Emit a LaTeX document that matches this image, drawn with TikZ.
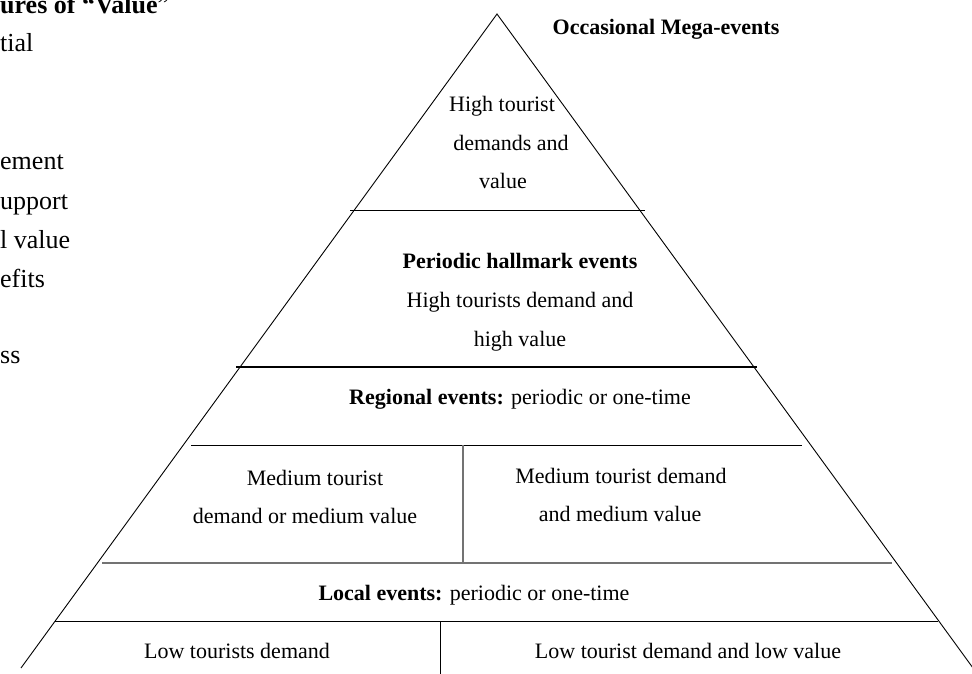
\documentclass[tikz,border=0pt]{standalone}
\usepackage{fontspec}
\setmainfont{Liberation Serif}
\begin{document}
\begin{tikzpicture}[x=1pt,y=-1pt,
  lbl/.style={anchor=base, inner sep=0pt, font=\fontsize{22}{26}\selectfont},
  side/.style={line width=0.9pt, draw=black},
  tier/.style={line width=1pt, draw=black},
  boldtier/.style={line width=1.6pt, draw=black},
  softtier/.style={line width=1.2pt, draw=black!55},
  margintext/.style={anchor=base west, inner sep=0pt, font=\fontsize{26}{30}\selectfont}]
\useasboundingbox (0,0) rectangle (972,674);

% pyramid outline
\coordinate (apex) at (497,14);
\coordinate (baseL) at (21,668);
\coordinate (baseR) at (973,668);
\draw[side] (baseL) -- (apex) -- (baseR);

% tier separators
\coordinate (t1L) at (350,210);  \coordinate (t1R) at (645,210);
\coordinate (t2L) at (236,367);  \coordinate (t2R) at (757,367);
\coordinate (t3L) at (191,445);  \coordinate (t3R) at (802,445);
\coordinate (t4L) at (102,563);  \coordinate (t4R) at (892,563);
\coordinate (t5L) at (55,621);   \coordinate (t5R) at (938,621);
\draw[tier] (t1L) -- (t1R);
\draw[boldtier] (t2L) -- (t2R);
\draw[tier] (t3L) -- (t3R);
\draw[softtier] (t4L) -- (t4R);
\draw[tier] (t5L) -- (t5R);

% column splits
\coordinate (v1T) at (463,445); \coordinate (v1B) at (463,563);
\coordinate (v2T) at (440,621); \coordinate (v2B) at (440,674);
\draw[softtier] (v1T) -- (v1B);
\draw[tier] (v2T) -- (v2B);

% labels
\node[lbl, font=\fontsize{22}{26}\selectfont\bfseries] (mega) at (666,35) {Occasional Mega-events};

\node[lbl] (top1) at (502,112) {High tourist};
\node[lbl] (top2) at (511,150) {demands and};
\node[lbl] (top3) at (503,188) {value};

\node[lbl, font=\fontsize{22}{26}\selectfont\bfseries] (hall0) at (520,268) {Periodic hallmark events};
\node[lbl] (hall1) at (520,307) {High tourists demand and};
\node[lbl] (hall2) at (520,346) {high value};

\node[lbl] (reg) at (520,404) {\textbf{Regional events:} periodic or one-time};

\node[lbl] (medL1) at (315,485) {Medium tourist};
\node[lbl] (medL2) at (305,523) {demand or medium value};
\node[lbl] (medR1) at (621,483) {Medium tourist demand};
\node[lbl] (medR2) at (620,521) {and medium value};

\node[lbl] (loc) at (474,600) {\textbf{Local events:} periodic or one-time};

\node[lbl] (lowL) at (237,658) {Low tourists demand};
\node[lbl] (lowR) at (688,658) {Low tourist demand and low value};

% text column at the left edge
\node[margintext] (m0) at (0,14) {\textbf{ures of “Value}”};
\node[margintext] (m1) at (0,52) {tial};
\node[margintext] (m2) at (0,170) {ement};
\node[margintext] (m3) at (0,209) {upport};
\node[margintext] (m4) at (0,248) {l value};
\node[margintext] (m5) at (0,287) {efits};
\node[margintext] (m6) at (0,363) {ss};
\end{tikzpicture}
\end{document}
